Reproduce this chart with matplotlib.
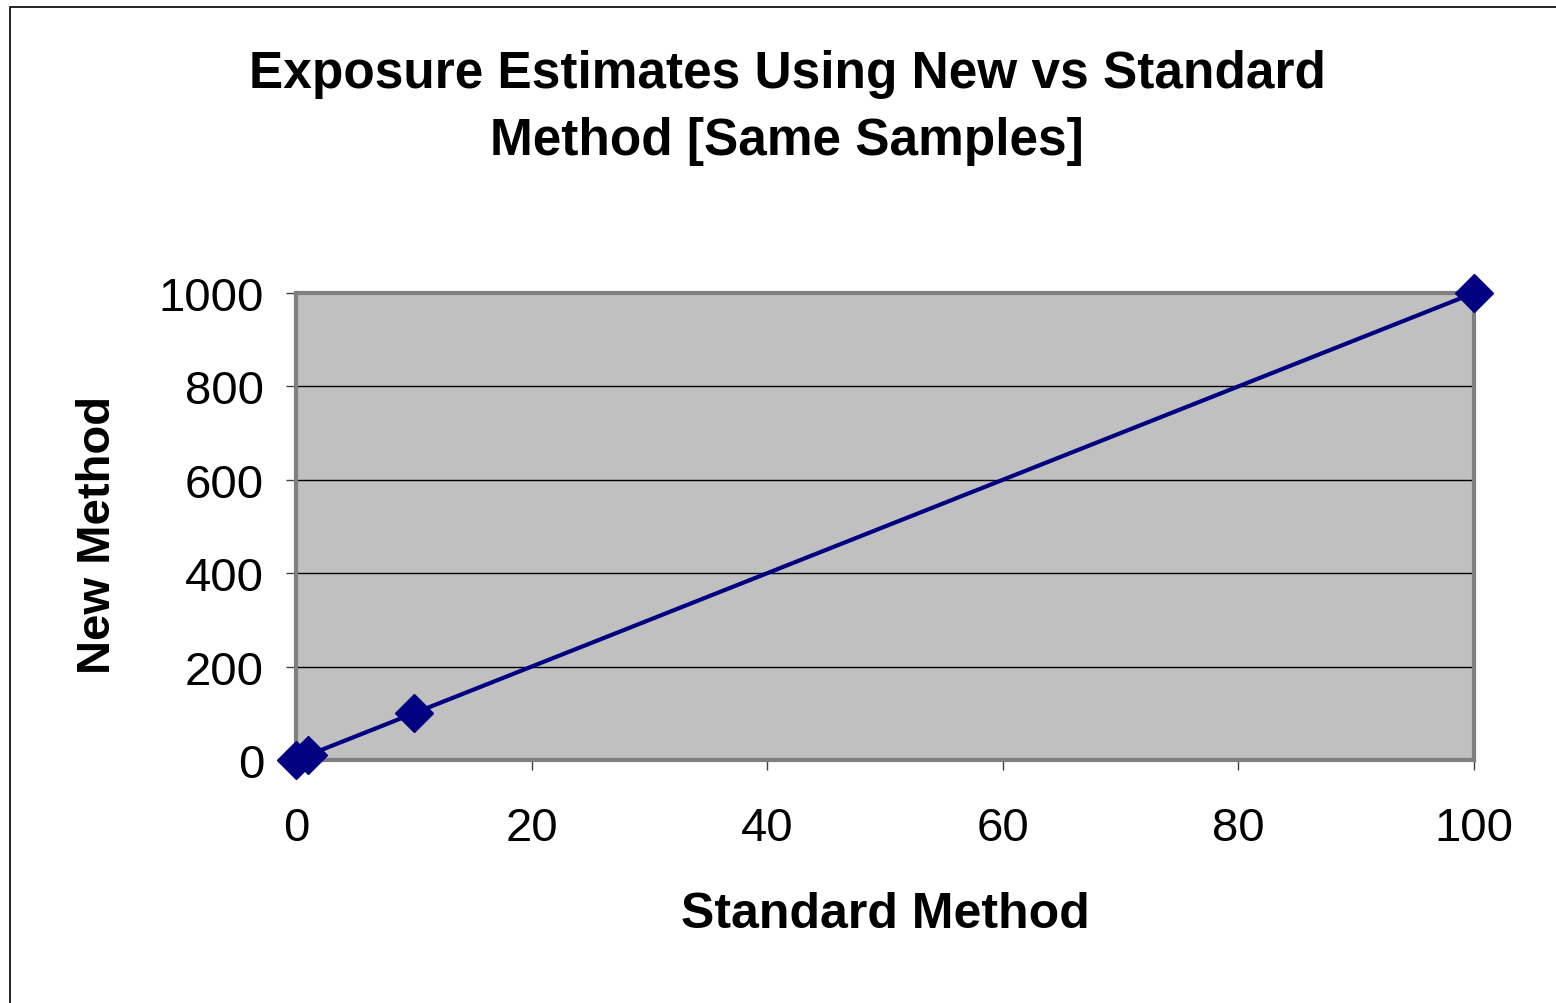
import matplotlib.pyplot as plt
from matplotlib.patches import Rectangle

plt.rcParams['font.family'] = ['Liberation Sans', 'DejaVu Sans']

standard = [0, 1, 10, 100]
new_method = [0, 10, 100, 1000]
xticks = [0, 20, 40, 60, 80, 100]
yticks = [0, 200, 400, 600, 800, 1000]

fig = plt.figure(figsize=(15.56, 10.04), dpi=100)
# outer chart border (only left/top visible, rest is cropped off)
fig.patches.append(Rectangle((10 / 1556, -0.05), 1.2, 1 - 8 / 1004 + 0.05,
                             transform=fig.transFigure, fill=False,
                             edgecolor='black', linewidth=1.2))

ax = fig.add_axes([296 / 1556, 1 - 761 / 1004, 1178 / 1556, 467 / 1004])
ax.set_facecolor('#c0c0c0')
ax.plot(standard, new_method, color='#000080', linewidth=3,
        marker='D', markersize=19, clip_on=False, zorder=5)

ax.set_xlim(0, 100)
ax.set_ylim(0, 1000)
ax.set_xticks(xticks)
ax.set_yticks(yticks)
ax.tick_params(labelsize=34, length=7, width=1, color='#404040')
ax.tick_params(axis='x', pad=26)
ax.tick_params(axis='y', pad=16)
ax.grid(axis='y', color='black', linewidth=1)
ax.set_axisbelow(True)
for s in ax.spines.values():
    s.set_color('#808080')
    s.set_linewidth(3)

fig.text(885 / 1556, 1 - 915 / 1004, 'Standard Method', ha='center', va='center',
         fontsize=36, fontweight='bold')
fig.text(98 / 1556, 1 - 535 / 1004, 'New Method', ha='center', va='center',
         rotation=90, fontsize=34, fontweight='bold')
fig.text(787 / 1556, 1 - 108 / 1004,
         'Exposure Estimates Using New vs Standard\nMethod [Same Samples]',
         ha='center', va='center', fontsize=37, fontweight='bold', linespacing=1.45)

fig.savefig('out.png', dpi=100)
